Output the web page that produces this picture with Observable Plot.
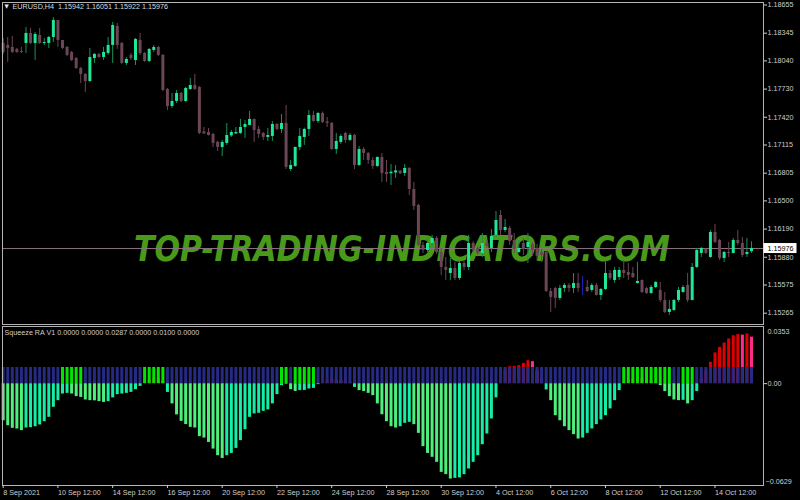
<!DOCTYPE html>
<html><head><meta charset="utf-8">
<script src="https://cdn.jsdelivr.net/npm/d3@7"></script>
<script src="https://cdn.jsdelivr.net/npm/@observablehq/plot@0.6"></script>
<style>
html,body{margin:0;padding:0;background:#000;}
#chart{position:relative;width:800px;height:500px;background:#000;overflow:hidden;}
#chart svg{display:block;position:absolute;left:0;}
</style></head><body><div id="chart"></div>
<script>
// ---------- DATA ----------
const symbolTitle = "EURUSD,H4\u00a0 1.15942 1.16051 1.15922 1.15976";
const indicatorTitle = "Squeeze RA V1 0.0000 0.0000 0.0287 0.0000 0.0100 0.0000";
const watermark = "TOP-TRADING-INDICATORS.COM";

const openP = [1.18232,1.18210,1.18188,1.18166,1.18144,1.18232,1.18342,1.18232,1.18320,1.18232,
1.18232,1.18298,1.18485,1.18265,1.18188,1.18133,1.18067,1.17957,1.17891,1.17814,
1.18067,1.18111,1.18078,1.18122,1.18210,1.18419,1.18232,1.18012,1.18100,1.18045,
1.18265,1.18122,1.18034,1.18155,1.18188,1.18100,1.17726,1.17539,1.17594,1.17682,
1.17594,1.17726,1.17770,1.17748,1.17259,1.17253,1.17231,1.17143,1.17088,1.17132,
1.17215,1.17237,1.17242,1.17308,1.17330,1.17396,1.17286,1.17242,1.17198,1.17209,
1.17341,1.17286,1.17352,1.16846,1.16879,1.17088,1.17198,1.17286,1.17440,1.17374,
1.17462,1.17369,1.17352,1.17066,1.17143,1.17242,1.17165,1.17220,1.16890,1.17066,
1.17022,1.16945,1.16879,1.16978,1.16813,1.16799,1.16808,1.16827,1.16802,1.16857,
1.16626,1.16450,1.16010,1.15955,1.16032,1.16087,1.15933,1.15768,1.15702,1.15757,
1.15647,1.15812,1.15768,1.16032,1.15977,1.15922,1.16032,1.15977,1.16120,1.16340,
1.16175,1.16197,1.16065,1.15933,1.16032,1.15988,1.16021,1.15977,1.15933,1.15933,
1.15504,1.15537,1.15427,1.15537,1.15570,1.15537,1.15592,1.15548,1.15548,1.15515,
1.15570,1.15460,1.15526,1.15702,1.15625,1.15658,1.15735,1.15713,1.15702,1.15592,
1.15625,1.15537,1.15482,1.15548,1.15515,1.15405,1.15273,1.15295,1.15405,1.15493,
1.15570,1.15405,1.15768,1.15922,1.15966,1.15878,1.16153,1.16065,1.15867,1.15933,
1.15922,1.16065,1.16032,1.15911,1.15942];

const highP = [1.18287,1.18298,1.18309,1.18177,1.18188,1.18408,1.18397,1.18353,1.18397,1.18287,
1.18309,1.18518,1.18485,1.18265,1.18199,1.18144,1.18078,1.17968,1.17902,1.18177,
1.18122,1.18122,1.18188,1.18298,1.18463,1.18452,1.18243,1.18078,1.18122,1.18287,
1.18342,1.18133,1.18177,1.18210,1.18199,1.18111,1.17737,1.17682,1.17715,1.17693,
1.17748,1.17847,1.17891,1.17759,1.17308,1.17297,1.17242,1.17154,1.17165,1.17352,
1.17275,1.17308,1.17396,1.17385,1.17484,1.17401,1.17319,1.17253,1.17297,1.17374,
1.17352,1.17451,1.17550,1.16945,1.17093,1.17297,1.17302,1.17495,1.17484,1.17473,
1.17478,1.17418,1.17363,1.17242,1.17231,1.17253,1.17242,1.17231,1.17099,1.17088,
1.17033,1.16978,1.16983,1.17022,1.16945,1.16900,1.16890,1.16835,1.16901,1.16868,
1.16703,1.16461,1.16043,1.16087,1.16120,1.16109,1.15977,1.15878,1.15867,1.15823,
1.15834,1.15834,1.16120,1.16054,1.15999,1.16142,1.16065,1.16186,1.16384,1.16395,
1.16296,1.16219,1.16142,1.16065,1.16087,1.16142,1.16043,1.16021,1.15966,1.15944,
1.15537,1.15548,1.15570,1.15592,1.15592,1.15702,1.15702,1.15669,1.15625,1.15592,
1.15592,1.15537,1.15845,1.15735,1.15768,1.15768,1.15845,1.15812,1.15768,1.15823,
1.15630,1.15548,1.15570,1.15614,1.15603,1.15493,1.15405,1.15416,1.15548,1.15570,
1.15702,1.15812,1.15977,1.15988,1.15977,1.16175,1.16241,1.16076,1.15944,1.16043,
1.16087,1.16175,1.16098,1.16087,1.16051];

const lowP = [1.18111,1.18023,1.18122,1.18122,1.18122,1.18122,1.18221,1.18045,1.18221,1.18210,
1.18177,1.18243,1.18188,1.18166,1.18089,1.18034,1.17946,1.17792,1.17693,1.17803,
1.18012,1.18067,1.18045,1.18100,1.18012,1.18166,1.18001,1.17990,1.18045,1.17990,
1.18100,1.18023,1.18023,1.18133,1.18089,1.17704,1.17495,1.17517,1.17572,1.17583,
1.17583,1.17715,1.17715,1.17231,1.17231,1.17214,1.17088,1.17044,1.16989,1.17110,
1.17198,1.17231,1.17231,1.17187,1.17325,1.17143,1.17187,1.17165,1.17154,1.17154,
1.17275,1.17242,1.16846,1.16824,1.16868,1.17055,1.17110,1.17209,1.17363,1.17352,
1.17352,1.17308,1.17055,1.17011,1.17121,1.17132,1.17154,1.16846,1.16879,1.16945,
1.16901,1.16846,1.16868,1.16703,1.16703,1.16670,1.16747,1.16791,1.16769,1.16560,
1.16395,1.15999,1.15922,1.15933,1.15988,1.15911,1.15680,1.15625,1.15625,1.15625,
1.15625,1.15735,1.15735,1.15933,1.15900,1.15878,1.15977,1.15933,1.16098,1.16120,
1.16153,1.16010,1.15922,1.15922,1.15900,1.15812,1.15889,1.15845,1.15823,1.15493,
1.15273,1.15317,1.15405,1.15493,1.15493,1.15482,1.15493,1.15460,1.15493,1.15493,
1.15454,1.15405,1.15515,1.15625,1.15592,1.15625,1.15647,1.15625,1.15647,1.15587,
1.15482,1.15471,1.15471,1.15537,1.15383,1.15262,1.15240,1.15284,1.15383,1.15482,
1.15383,1.15400,1.15757,1.15878,1.15911,1.15867,1.16032,1.15845,1.15823,1.15878,
1.15917,1.16010,1.15878,1.15878,1.15922];

const closeP = [1.18133,1.18177,1.18133,1.18133,1.18133,1.18342,1.18232,1.18331,1.18232,1.18243,
1.18298,1.18485,1.18265,1.18177,1.18100,1.18045,1.17957,1.17891,1.17814,1.18078,
1.18111,1.18078,1.18133,1.18210,1.18430,1.18210,1.18012,1.18056,1.18067,1.18276,
1.18122,1.18034,1.18166,1.18188,1.18100,1.17715,1.17539,1.17594,1.17682,1.17594,
1.17737,1.17770,1.17726,1.17242,1.17237,1.17220,1.17132,1.17088,1.17143,1.17220,
1.17253,1.17253,1.17308,1.17341,1.17396,1.17275,1.17231,1.17198,1.17220,1.17341,
1.17286,1.17352,1.16868,1.16890,1.17088,1.17209,1.17286,1.17440,1.17374,1.17462,
1.17363,1.17352,1.17066,1.17154,1.17209,1.17165,1.17220,1.16890,1.17066,1.17022,
1.16945,1.16879,1.16978,1.16802,1.16791,1.16816,1.16830,1.16799,1.16857,1.16626,
1.16439,1.16010,1.15955,1.16032,1.16087,1.15933,1.15768,1.15735,1.15757,1.15647,
1.15812,1.15768,1.16032,1.15955,1.15922,1.16032,1.15999,1.16109,1.16285,1.16175,
1.16208,1.16054,1.15966,1.15977,1.15966,1.16043,1.15955,1.15889,1.15900,1.15504,
1.15438,1.15427,1.15537,1.15570,1.15537,1.15592,1.15537,1.15548,1.15504,1.15570,
1.15460,1.15526,1.15702,1.15647,1.15735,1.15735,1.15702,1.15680,1.15658,1.15614,
1.15493,1.15482,1.15548,1.15603,1.15405,1.15273,1.15306,1.15405,1.15515,1.15548,
1.15405,1.15768,1.15955,1.15977,1.15922,1.16153,1.16043,1.15867,1.15933,1.15922,
1.16065,1.16032,1.15900,1.15933,1.15976];

const priceTicks = [1.18655,1.18345,1.18040,1.17730,1.17420,1.17115,1.16805,1.16500,1.16190,1.15880,1.15575,1.15265];

// Squeeze momentum histogram
const momentum = [-0.0229,-0.0260,-0.0276,-0.0280,-0.0290,
-0.0274,-0.0272,-0.0266,-0.0255,-0.0235,-0.0208,-0.0146,-0.0105,-0.0064,-0.0060,
-0.0064,-0.0080,-0.0085,-0.0101,-0.0105,-0.0106,-0.0111,-0.0116,
-0.0111,-0.0088,-0.0068,-0.0064,-0.0060,-0.0054,-0.0037,-0.0017,
0.0012,0.0025,0.0032,0.0030,0.0015,
-0.0054,
-0.0125,-0.0193,-0.0233,-0.0253,-0.0270,-0.0274,-0.0327,-0.0336,-0.0363,-0.0404,-0.0445,-0.0462,
-0.0445,-0.0431,-0.0400,-0.0352,-0.0284,-0.0208,-0.0187,-0.0183,-0.0171,-0.0162,-0.0125,-0.0068,-0.0012,-0.0004,
-0.0037,-0.0048,
-0.0043,-0.0042,-0.0033,-0.0029,-0.0006,
0.0010,0.0020,0.0026,0.0022,0.0018,0.0012,0.0005,
-0.0023,
-0.0043,-0.0049,-0.0060,-0.0074,-0.0125,-0.0192,-0.0235,-0.0266,-0.0274,
-0.0266,-0.0245,-0.0239,
-0.0253,-0.0307,-0.0389,-0.0431,-0.0455,-0.0486,-0.0548,-0.0562,-0.0589,
-0.0585,-0.0582,-0.0562,-0.0527,-0.0486,-0.0445,-0.0377,-0.0311,-0.0218,-0.0088,
0.0040,0.0085,0.0104,0.0107,0.0111,0.0125,0.0142,
0.0136,0.0080,0.0030,
-0.0039,
-0.0105,-0.0198,-0.0229,-0.0266,-0.0290,-0.0315,-0.0342,
-0.0336,-0.0307,-0.0280,-0.0253,-0.0224,-0.0198,-0.0156,-0.0105,-0.0043,
0.0010,0.0022,0.0030,0.0034,
0.0030,0.0024,0.0016,0.0006,
-0.0012,-0.0049,-0.0080,-0.0101,-0.0105,
-0.0103,
-0.0125,
-0.0105,-0.0049,
0.0030,0.0080,0.0132,0.0190,0.0224,0.0251,0.0276,0.0296,0.0303,
0.0300,
0.0307,
0.0287];
// colour state of each momentum bar, run-length: L neg falling, A neg rising, R pos rising, P pos falling
const momentumStateRuns = [["L",5],["A",10],["L",8],["A",8],["R",3],["P",2],["A",1],["L",12],["A",14],["L",2],
["A",5],["R",3],["P",4],["A",1],["L",9],["A",3],["L",9],["A",10],["R",7],["P",3],["A",1],["L",7],["A",9],
["R",4],["P",4],["L",5],["A",1],["L",1],["A",2],["R",9],["P",1],["R",1],["P",1]];
const squeezeLevel = 0.01;
// squeeze state run-length: B squeeze on (blue), G squeeze off (green)
const squeezeStateRuns = [["B",13],["G",5],["B",13],["G",5],["B",25],["G",2],["B",1],["G",5],["B",67],["G",11],["B",2],["G",3],["B",13]];
const subTop = 0.0353, subBottom = -0.0629;

const dateTickIdx = [0,12,24,36,48,60,72,84,96,108,120,132,144,156];
const dateLabels = ["8 Sep 2021","10 Sep 12:00","14 Sep 12:00","16 Sep 12:00","20 Sep 12:00","22 Sep 12:00","24 Sep 12:00","28 Sep 12:00","30 Sep 12:00","4 Oct 12:00","6 Oct 12:00","8 Oct 12:00","12 Oct 12:00","14 Oct 12:00"];

// ---------- STYLE ----------
const bullBody="#1ee896", bullWick="#1a8f5c", bearColor="#6b4656", dojiColor="#2424d0";
const stateColor = {L:"#4ef07c", A:"#14eea6", R:"#e00000", P:"#ff2b8c", B:"#262a82", G:"#00e600"};
const font = "'Liberation Sans', Arial, sans-serif";
const axisColor = "#cfcfcf";
const fs = 7.2;

const expand = runs => runs.flatMap(([k,n]) => Array(n).fill(k));
const momState = expand(momentumStateRuns);
const sqState = expand(squeezeStateRuns);

const candles = openP.map((o,i)=>{
  const c = closeP[i];
  const up = c>o, down = c<o;
  return {i, o, h: highP[i], l: lowP[i], c,
    body: up?bullBody:down?bearColor:dojiColor,
    wick: up?bullWick:down?bearColor:dojiColor};
});
const hist = momentum.map((v,i)=>({i, v, col: stateColor[momState[i]] || "#14eea6", sq: stateColor[sqState[i]] || "#262a82"}));
const lastClose = closeP[closeP.length-1];

const xDomain = [-0.147, 166.63];
const container = document.getElementById("chart");

// ---------- MAIN PANEL ----------
const main = Plot.plot({
  width: 800, height: 325,
  marginLeft: 2, marginRight: 37, marginTop: 2, marginBottom: 1,
  style: {background:"#000", color: axisColor, fontFamily: font, fontSize: fs+"px", overflow:"visible"},
  x: {domain: xDomain, axis: null},
  y: {domain: [1.151405, 1.186825], axis: null},
  color: {type: "identity"},
  marks: [
    Plot.text([watermark], {frameAnchor:"middle", text: d=>d, dx: 19, dy: 86, fill:"#4a9a1a",
      fontSize: 35, fontWeight:"bold", fontStyle:"italic", fontFamily:"'DejaVu Sans', sans-serif"}),
    Plot.ruleY([lastClose], {stroke:"#8a7380", strokeWidth:1}),
    Plot.ruleX(candles, {x:"i", y1:"l", y2:"h", stroke:"wick", strokeWidth:1}),
    Plot.ruleX(candles, {x:"i", y1:"o", y2:"c", stroke:"body", strokeWidth:3}),
    Plot.frame({stroke:"#b4b4b4"}),
    Plot.axisY(priceTicks, {anchor:"right", label: null, tickSize:3, tickPadding:1, tickFormat: d3.format(".5f"), color: axisColor, fontSize: fs}),
    Plot.text([lastClose], {y: d=>d, frameAnchor:"right", dx: 4, textAnchor:"start", text: d3.format(".5f"), fill:"#000", fontSize: fs}),
    Plot.text(["\u25BC"], {frameAnchor:"top-left", text:d=>d, dx:2, dy:2, fill:"#e8e8e8", fontSize:5.5, fontFamily:"'DejaVu Sans', sans-serif"}),
    Plot.text([symbolTitle], {frameAnchor:"top-left", text:d=>d, dx:10, dy:1, fill:"#dcdcdc", fontSize: fs})
  ]
});
main.style.top = "0px";
container.appendChild(main);

// watermark width & price label box
d3.select(main).selectAll("text").filter(function(){return this.textContent===watermark;})
  .attr("textLength", 536).attr("lengthAdjust","spacingAndGlyphs");
(function(){
  const lbl = d3.select(main).selectAll("text").filter(function(){return this.textContent===d3.format(".5f")(lastClose);}).node();
  if (!lbl) return;
  const yp = main.scale("y").apply(lastClose);
  let top = lbl; while (top.parentNode && top.parentNode !== main) top = top.parentNode;
  const r = document.createElementNS("http://www.w3.org/2000/svg","rect");
  r.setAttribute("x", 763.5); r.setAttribute("y", yp-5); r.setAttribute("width", 33); r.setAttribute("height", 10);
  r.setAttribute("fill","#ffffff");
  main.insertBefore(r, top);
})();

// ---------- SQUEEZE PANEL ----------
const labelByIdx = new Map(dateTickIdx.map((d,k)=>[d, dateLabels[k]]));
const sub = Plot.plot({
  width: 800, height: 175,
  marginLeft: 2, marginRight: 37, marginTop: 1, marginBottom: 15,
  style: {background:"#000", color: axisColor, fontFamily: font, fontSize: fs+"px", overflow:"visible"},
  x: {domain: xDomain, axis: null},
  y: {domain: [subBottom, subTop], axis: null},
  color: {type: "identity"},
  marks: [
    Plot.ruleX(hist, {x:"i", y1: 0, y2:"v", stroke:"col", strokeWidth:3}),
    Plot.ruleX(hist, {x:"i", y1: 0, y2: () => squeezeLevel, stroke:"sq", strokeWidth:3}),
    Plot.frame({stroke:"#b4b4b4"}),
    Plot.axisX(dateTickIdx, {anchor:"bottom", label: null, tickSize:3, tickPadding:1, tickFormat: d=>labelByIdx.get(d), textAnchor:"start", color: axisColor, fontSize: fs}),
    Plot.axisY([0], {anchor:"right", label: null, tickSize:3, tickPadding:1, tickFormat: ()=>"0.00", color: axisColor, fontSize: fs}),
    Plot.text([subTop], {y:d=>d, frameAnchor:"right", dx:4, dy:5, textAnchor:"start", text: d3.format(".4f"), fill: axisColor, fontSize: fs}),
    Plot.text([subBottom], {y:d=>d, frameAnchor:"right", dx:2, dy:-3.5, textAnchor:"start", text: d3.format(".4f"), fill: axisColor, fontSize: fs}),
    Plot.text([indicatorTitle], {frameAnchor:"top-left", text:d=>d, dx:2, dy:3, fill:"#d0d0d0", fontSize: fs})
  ]
});
sub.style.top = "325px";
container.appendChild(sub);
</script></body></html>
